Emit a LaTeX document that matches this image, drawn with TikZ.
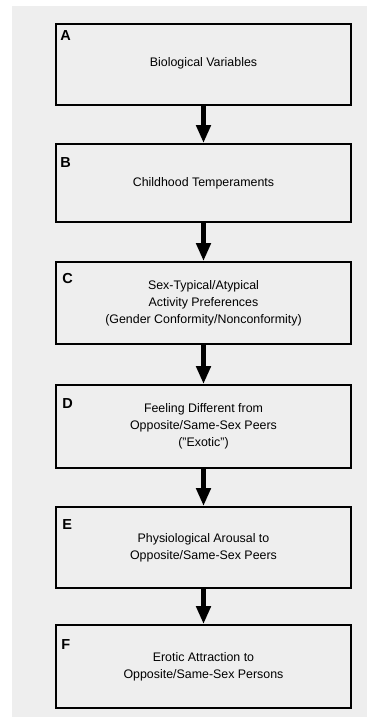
\documentclass[tikz,border=0pt]{standalone}
\usepackage{fontspec}
\setmainfont{Liberation Sans}
\usepackage{tikz}
\usetikzlibrary{positioning,arrows.meta}
\definecolor{paper}{HTML}{EEEEEE}

\tikzset{
    stage/.style={draw, line width=1.8pt, minimum width=295pt, align=center,
        inner sep=0pt, font=\fontsize{12.4}{17}\selectfont},
    letter/.style={inner sep=0pt, font=\fontsize{14.5}{15}\selectfont\bfseries},
    flow/.style={line width=4.5pt, -{Triangle[length=18pt,width=14pt]}}
}

\begin{document}
\begin{tikzpicture}[x=1pt, y=-1pt]
    \fill[paper] (12,6) rectangle (367,717);
    \useasboundingbox (0,0) rectangle (367,717);

    \node[stage, minimum height=81pt] (a) at (203.5,64.5) {\raisebox{4pt}{Biological Variables}};
    \node[stage, minimum height=78pt] (b) at (203.5,183) {Childhood Temperaments};
    \node[stage, minimum height=82pt] (c) at (203.5,303) {Sex-Typical/Atypical\\Activity Preferences\\(Gender Conformity/Nonconformity)};
    \node[stage, minimum height=83pt] (d) at (203.5,426.5) {Feeling Different from\\Opposite/Same-Sex Peers\\("Exotic")};
    \node[stage, minimum height=81pt] (e) at (203.5,547.5) {Physiological Arousal to\\Opposite/Same-Sex Peers};
    \node[stage, minimum height=83pt] (f) at (203.5,666.5) {Erotic Attraction to\\Opposite/Same-Sex Persons};

    \node[letter, below right=7pt and 5pt of a.north west] (la) {A};
    \node[letter, below right=14pt and 5pt of b.north west] (lb) {B};
    \node[letter, below right=12pt and 7pt of c.north west] (lc) {C};
    \node[letter, below right=14pt and 7pt of d.north west] (ld) {D};
    \node[letter, below right=13pt and 7pt of e.north west] (le) {E};
    \node[letter, below right=15pt and 6pt of f.north west] (lf) {F};

    \draw[flow] (a) -- (b);
    \draw[flow] (b) -- (c);
    \draw[flow] (c) -- (d);
    \draw[flow] (d) -- (e);
    \draw[flow] (e) -- (f);
\end{tikzpicture}
\end{document}
